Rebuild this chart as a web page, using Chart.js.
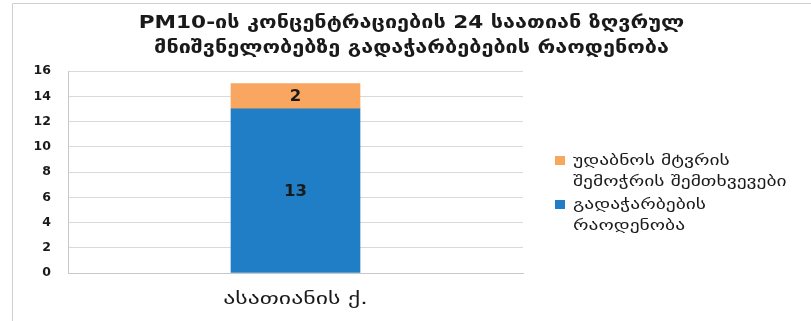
<!DOCTYPE html>
<html>
<head>
<meta charset="utf-8">
<script src="https://cdn.jsdelivr.net/npm/chart.js@4/dist/chart.umd.min.js"></script>
<style>
html,body{margin:0;padding:0;background:#fff;}
#wrap{width:811px;height:321px;position:relative;}
</style>
</head>
<body>
<div id="wrap"><canvas id="c" width="811" height="321"></canvas></div>
<script>
const categories = ['ასათიანის ქ.'];
const exceedances = [13];
const dustEvents = [2];
const seriesNames = [
  ['გადაჭარბების', 'რაოდენობა'],
  ['უდაბნოს მტვრის', 'შემოჭრის შემთხვევები']
];
const titleLines = [
  'PM10-ის კონცენტრაციების 24 საათიან ზღვრულ',
  'მნიშვნელობებზე გადაჭარბებების რაოდენობა'
];
const yTicks = [0, 2, 4, 6, 8, 10, 12, 14, 16];

const GEO = '"DejaVu Sans", "Noto Sans", sans-serif';
const INK = '#1a1a1a';

// draw text with a horizontal stretch to mimic the wide original typeface
function wideText(ctx, text, x, y, sx, align) {
  ctx.save();
  ctx.translate(x, y);
  ctx.scale(sx, 1);
  ctx.textAlign = align;
  ctx.fillText(text, 0, 0);
  ctx.restore();
}

const framePlugin = {
  id: 'frame',
  beforeDraw(chart) {
    const ctx = chart.ctx;
    ctx.save();
    ctx.fillStyle = '#fff';
    ctx.fillRect(0, 0, chart.width, chart.height);
    ctx.strokeStyle = '#cfcfcf';
    ctx.lineWidth = 1;
    ctx.beginPath();
    ctx.moveTo(12.5, chart.height + 1);
    ctx.lineTo(12.5, 3.5);
    ctx.lineTo(chart.width + 1, 3.5);
    ctx.stroke();
    // title, centred over the whole chart box
    ctx.fillStyle = INK;
    ctx.font = 'bold 18px ' + GEO;
    ctx.textBaseline = 'middle';
    const cx = (12 + chart.width) / 2;
    titleLines.forEach((line, i) => {
      wideText(ctx, line, cx, 23 + i * 25, 1.2, 'center');
    });
    ctx.restore();
  }
};

const valueLabels = {
  id: 'valueLabels',
  afterDatasetsDraw(chart) {
    const ctx = chart.ctx;
    ctx.save();
    ctx.font = 'bold 15px ' + GEO;
    ctx.fillStyle = INK;
    ctx.textBaseline = 'middle';
    chart.data.datasets.forEach((ds, i) => {
      const meta = chart.getDatasetMeta(i);
      meta.data.forEach((bar, j) => {
        const p = bar.getProps(['x', 'y', 'base'], true);
        wideText(ctx, String(ds.data[j]), p.x, (p.y + p.base) / 2 + 1, 1.1, 'center');
      });
    });
    // category labels under the x axis
    const xs = chart.scales.x;
    ctx.font = '17px ' + GEO;
    chart.data.labels.forEach((lab, j) => {
      wideText(ctx, lab, xs.getPixelForValue(j), chart.chartArea.bottom + 27, 1.4, 'center');
    });
    ctx.restore();
  }
};

const sideLegend = {
  id: 'sideLegend',
  afterDraw(chart) {
    const ctx = chart.ctx;
    ctx.save();
    ctx.font = '15px ' + GEO;
    ctx.textBaseline = 'middle';
    const boxX = 555, textX = 573, lineH = 21;
    const order = [1, 0];
    let y = 161;
    order.forEach(i => {
      const ds = chart.data.datasets[i];
      ctx.fillStyle = ds.backgroundColor;
      ctx.fillRect(boxX, y - 5, 10, 9);
      ctx.fillStyle = INK;
      ds.label.forEach((line, k) => {
        wideText(ctx, line, textX, y + k * lineH, 1.3, 'left');
      });
      y += ds.label.length * lineH + 2;
    });
    ctx.restore();
  }
};

new Chart(document.getElementById('c'), {
  type: 'bar',
  data: {
    labels: categories,
    datasets: [
      { label: seriesNames[0], data: exceedances, backgroundColor: '#1F7EC6', borderWidth: 0, barThickness: 129 },
      { label: seriesNames[1], data: dustEvents, backgroundColor: '#F9A660', borderWidth: 0, barThickness: 129 }
    ]
  },
  options: {
    responsive: false,
    animation: false,
    devicePixelRatio: 1,
    layout: { padding: { left: 0, right: 288, top: 71, bottom: 0 } },
    plugins: {
      legend: { display: false },
      tooltip: { enabled: false },
      title: { display: false }
    },
    scales: {
      x: {
        stacked: true,
        grid: { display: false, drawTicks: false },
        border: { display: true, color: '#c8c8c8' },
        ticks: { display: false },
        afterFit(s) { s.height = 48; }
      },
      y: {
        stacked: true,
        min: 0,
        max: 16,
        afterBuildTicks(s) { s.ticks = yTicks.map(v => ({ value: v })); },
        grid: { color: '#d9d9d9', lineWidth: 1, drawTicks: false },
        border: { display: true, color: '#c8c8c8' },
        ticks: { color: INK, padding: 17, font: { family: GEO, size: 12.5, weight: 'bold' } },
        afterFit(s) { s.width = 68; }
      }
    }
  },
  plugins: [framePlugin, valueLabels, sideLegend]
});
</script>
</body>
</html>
